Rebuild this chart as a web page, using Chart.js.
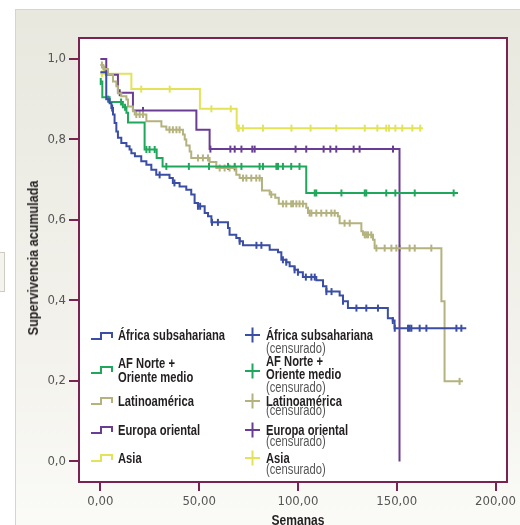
<!doctype html>
<html lang="es">
  <head>
    <meta charset="utf-8">
    <title>Supervivencia acumulada</title>
    <script src="https://cdn.jsdelivr.net/npm/chart.js"></script>
    <style>
      html, body { margin: 0; padding: 0; background: #fff; }
      body { width: 520px; height: 525px; position: relative; overflow: hidden;
             font-family: "Liberation Sans", Arial, sans-serif; }
      .panel { position: absolute; left: 15px; top: 9px; width: 520px; height: 530px;
               border-left: 1px solid #d7d5ca; border-top: 1px solid #d7d5ca;
               background: linear-gradient(#e9e8df, #f2f1eb 60%, #fbfbf8); }
      .stub { position: absolute; left: -6px; top: 252px; width: 9px; height: 38px;
              border: 1px solid #cfcdc3; background: #f4f3ee; }
      #wrap { position: absolute; left: 0; top: 0; width: 520px; height: 525px; }
      /* el original usa una tipografía estrecha: se comprime en horizontal */
      .lg { position: absolute; font-size: 14px; line-height: 16px; font-weight: bold;
            color: #231f20; white-space: nowrap; transform: scaleX(0.8); transform-origin: 0 50%; }
      .cens { font-weight: normal; color: #555; }
      .ico { position: absolute; }
      .ytitle { position: absolute; left: 33px; top: 258px; transform: translate(-50%, -50%) rotate(-90deg) scaleX(0.9);
                font-size: 14px; font-weight: bold; color: #231f20; white-space: nowrap; }
      .xtitle { position: absolute; left: 298px; top: 512px; transform: translateX(-50%) scaleX(0.86);
                font-size: 14px; font-weight: bold; color: #231f20; }
    </style>
  </head>
  <body>
    <div class="panel"></div>
    <div class="stub"></div>
    <div id="wrap"><canvas id="km" width="520" height="525"></canvas></div>

    <div class="ytitle">Supervivencia acumulada</div>
    <div class="xtitle">Semanas</div>

    <!-- leyenda -->
    <svg class="ico" style="left:90px;top:331px" width="24" height="10"><polyline points="1,8 11,8 11,2 22,2 22,7" fill="none" stroke="#3a4ea5" stroke-width="2"/></svg>
    <svg class="ico" style="left:90px;top:365px" width="24" height="10"><polyline points="1,8 11,8 11,2 22,2 22,7" fill="none" stroke="#1fa85b" stroke-width="2"/></svg>
    <svg class="ico" style="left:90px;top:396px" width="24" height="10"><polyline points="1,8 11,8 11,2 22,2 22,7" fill="none" stroke="#b4b27e" stroke-width="2"/></svg>
    <svg class="ico" style="left:90px;top:425px" width="24" height="10"><polyline points="1,8 11,8 11,2 22,2 22,7" fill="none" stroke="#6a3d94" stroke-width="2"/></svg>
    <svg class="ico" style="left:90px;top:453px" width="24" height="10"><polyline points="1,8 11,8 11,2 22,2 22,7" fill="none" stroke="#e3e35a" stroke-width="2"/></svg>

    <div class="lg" style="left:118px;top:327px">África subsahariana</div>
    <div class="lg" style="left:118px;top:355px">AF Norte +</div>
    <div class="lg" style="left:118px;top:369px">Oriente medio</div>
    <div class="lg" style="left:118px;top:393px">Latinoamérica</div>
    <div class="lg" style="left:118px;top:422px">Europa oriental</div>
    <div class="lg" style="left:118px;top:450px">Asia</div>

    <svg class="ico" style="left:245px;top:327px" width="16" height="16"><path d="M0,8H15M7.5,0.5V15.5" stroke="#3a4ea5" stroke-width="2"/></svg>
    <svg class="ico" style="left:245px;top:363px" width="16" height="16"><path d="M0,8H15M7.5,0.5V15.5" stroke="#1fa85b" stroke-width="2"/></svg>
    <svg class="ico" style="left:245px;top:393px" width="16" height="16"><path d="M0,8H15M7.5,0.5V15.5" stroke="#b4b27e" stroke-width="2"/></svg>
    <svg class="ico" style="left:245px;top:422px" width="16" height="16"><path d="M0,8H15M7.5,0.5V15.5" stroke="#6a3d94" stroke-width="2"/></svg>
    <svg class="ico" style="left:245px;top:450px" width="16" height="16"><path d="M0,8H15M7.5,0.5V15.5" stroke="#e3e35a" stroke-width="2"/></svg>

    <div class="lg" style="left:266px;top:327px">África subsahariana</div>
    <div class="lg cens" style="left:266px;top:340px">(censurado)</div>
    <div class="lg" style="left:266px;top:353px">AF Norte +</div>
    <div class="lg" style="left:266px;top:366px">Oriente medio</div>
    <div class="lg cens" style="left:266px;top:379px">(censurado)</div>
    <div class="lg" style="left:266px;top:393px">Latinoamérica</div>
    <div class="lg cens" style="left:266px;top:402px">(censurado)</div>
    <div class="lg" style="left:266px;top:422px">Europa oriental</div>
    <div class="lg cens" style="left:266px;top:433px">(censurado)</div>
    <div class="lg" style="left:266px;top:450px">Asia</div>
    <div class="lg cens" style="left:266px;top:461px">(censurado)</div>

    <script>
      // Kaplan-Meier: tiempos (semanas) y supervivencia tras cada evento
      const africaT = [0, 3.0, 4.7, 5.6, 6.4, 7.2, 8.1, 8.9, 10.6, 13.2, 14.8, 15.7, 17.5, 20.7, 23.3, 25.8, 28.3, 35.0, 36.7, 40.1, 43.5, 46.0, 47.7, 49.4, 52.8, 54.5, 56.2, 64.6, 65.4, 68.8, 70.5, 72.2, 85.7, 89.9, 91.6, 94.1, 95.8, 98.3, 100.0, 102.5, 109.3, 112.7, 114.4, 121.1, 122.8, 125.3, 145.5, 148.0, 148.9, 185.2];
      const africaS = [0.967, 0.900, 0.890, 0.878, 0.862, 0.841, 0.820, 0.804, 0.791, 0.783, 0.775, 0.766, 0.758, 0.746, 0.737, 0.725, 0.712, 0.704, 0.692, 0.683, 0.675, 0.663, 0.642, 0.634, 0.617, 0.609, 0.594, 0.580, 0.563, 0.555, 0.547, 0.537, 0.526, 0.520, 0.501, 0.495, 0.485, 0.476, 0.470, 0.458, 0.450, 0.435, 0.422, 0.412, 0.398, 0.381, 0.356, 0.350, 0.331, 0.331];
      const africaC = [4.0, 6.0, 30.0, 37.5, 49.4, 50.5, 56.5, 59.5, 70.5, 79.0, 81.5, 92.4, 94.1, 98.3, 100.0, 104.0, 106.8, 108.5, 114.4, 117.0, 122.8, 129.6, 134.6, 140.5, 148.0, 149.0, 155.7, 156.5, 157.4, 161.6, 165.0, 180.2, 182.7];

      const norteT = [0, 1.0, 4.7, 11.4, 13.2, 14.0, 22.4, 28.5, 31.5, 104.2, 181.0];
      const norteS = [0.944, 0.905, 0.893, 0.880, 0.866, 0.842, 0.775, 0.754, 0.733, 0.667, 0.667];
      const norteC = [0.2, 10.5, 12.5, 23.3, 24.9, 27.5, 33.4, 44.8, 55.0, 64.6, 68.0, 71.4, 80.6, 82.3, 89.1, 89.9, 92.4, 96.6, 100.8, 108.5, 109.3, 122.0, 133.8, 134.6, 144.7, 149.3, 159.1, 178.8];

      const latT = [0, 1.5, 3.9, 6.4, 8.1, 8.9, 10.6, 13.2, 14.0, 16.5, 17.4, 23.3, 30.9, 33.4, 41.8, 42.7, 43.5, 45.2, 46.0, 55.3, 58.7, 68.8, 70.5, 81.8, 85.7, 88.5, 90.3, 104.2, 105.1, 120.2, 121.1, 132.1, 132.9, 138.0, 138.8, 172.6, 174.2, 183.5];
      const latS = [0.985, 0.975, 0.961, 0.944, 0.932, 0.915, 0.907, 0.899, 0.882, 0.870, 0.862, 0.845, 0.832, 0.824, 0.812, 0.800, 0.785, 0.770, 0.754, 0.744, 0.729, 0.712, 0.704, 0.673, 0.663, 0.655, 0.640, 0.630, 0.617, 0.609, 0.592, 0.572, 0.563, 0.551, 0.530, 0.398, 0.199, 0.199];
      const latC = [0.8, 2.0, 18.2, 19.9, 21.6, 35.0, 36.7, 38.5, 40.1, 49.4, 51.9, 54.5, 60.4, 62.9, 65.4, 68.0, 72.2, 73.9, 76.4, 78.9, 80.6, 86.5, 92.4, 94.1, 96.6, 97.5, 99.2, 100.8, 102.5, 105.9, 106.8, 109.3, 111.8, 114.4, 116.9, 118.6, 123.6, 126.2, 133.8, 134.6, 135.5, 137.1, 139.7, 143.9, 147.3, 149.8, 151.5, 156.5, 159.1, 167.5, 181.8];

      const europaT = [0, 3.0, 8.9, 16.5, 48.6, 55.3, 151.4];
      const europaS = [1.0, 0.961, 0.916, 0.872, 0.824, 0.776, 0.0];
      const europaC = [9.8, 21.6, 55.7, 65.8, 68.0, 71.4, 76.9, 78.1, 98.8, 104.2, 113.0, 116.4, 119.4, 128.2, 131.2, 148.1];

      const asiaT = [0, 15.7, 50.4, 69.0, 163.3];
      const asiaS = [0.963, 0.925, 0.876, 0.828, 0.828];
      const asiaC = [0.8, 20.7, 35.1, 56.2, 66.0, 69.6, 70.1, 72.2, 82.3, 96.7, 106.4, 119.4, 133.8, 140.2, 144.7, 146.1, 149.3, 152.8, 157.9, 161.9];

      const groups = ['África subsahariana', 'AF Norte + Oriente medio', 'Latinoamérica', 'Europa oriental', 'Asia'];
      const xTicks = [0, 50, 100, 150, 200];
      const yTicks = [0, 0.2, 0.4, 0.6, 0.8, 1.0];

      const colors = ['#3a4ea5', '#1fa85b', '#b4b27e', '#6a3d94', '#e3e35a'];
      const maroon = '#7a2350';
      const font = '"DejaVu Sans Condensed", sans-serif';

      const series = [
        [africaT, africaS, africaC],
        [norteT, norteS, norteC],
        [latT, latS, latC],
        [europaT, europaS, europaC],
        [asiaT, asiaS, asiaC]
      ];

      function survAt(t, s, x) {
        let v = s[0];
        for (let i = 0; i < t.length; i++) { if (t[i] <= x) v = s[i]; }
        return v;
      }

      const datasets = [];
      series.forEach(([t, s], i) => {
        datasets.push({
          label: groups[i],
          data: t.map((x, k) => ({ x: x, y: s[k] })),
          borderColor: colors[i], borderWidth: 2, stepped: true,
          pointRadius: 0, fill: false
        });
      });
      series.forEach(([t, s, c], i) => {
        datasets.push({
          label: groups[i] + ' (censurado)',
          data: c.map(x => ({ x: x, y: survAt(t, s, x) })),
          showLine: false, pointStyle: 'line', rotation: 90,
          pointRadius: 3.5, pointBorderWidth: 2,
          borderColor: colors[i], backgroundColor: colors[i]
        });
      });

      const plotBox = {
        id: 'plotBox',
        beforeDraw(chart) {
          const a = chart.chartArea, ctx = chart.ctx;
          ctx.save();
          ctx.fillStyle = '#fff';
          ctx.fillRect(a.left, a.top, a.right - a.left, a.bottom - a.top);
          ctx.restore();
        },
        beforeDatasetsDraw(chart) {
          const a = chart.chartArea, ctx = chart.ctx;
          ctx.save();
          ctx.strokeStyle = maroon;
          ctx.lineWidth = 2;
          ctx.strokeRect(a.left, a.top, a.right - a.left, a.bottom - a.top);
          ctx.restore();
        }
      };

      const fmt = d => v => v.toFixed(d).replace('.', ',');

      new Chart(document.getElementById('km'), {
        type: 'line',
        data: { datasets: datasets },
        options: {
          responsive: false,
          animation: false,
          devicePixelRatio: 1,
          layout: { padding: { top: 38, right: 13, left: 0, bottom: 0 } },
          plugins: { legend: { display: false }, tooltip: { enabled: false } },
          scales: {
            x: {
              type: 'linear', min: -10.8, max: 205.8,
              afterBuildTicks: s => { s.ticks = xTicks.map(v => ({ value: v })); },
              afterFit: s => { s.height = 43; },
              grid: { drawOnChartArea: false, tickLength: 9, color: maroon, lineWidth: 2 },
              border: { display: false },
              ticks: { callback: fmt(2), color: '#555', padding: 3, maxRotation: 0, font: { family: font, size: 13 } }
            },
            y: {
              type: 'linear', min: -0.051, max: 1.052,
              afterBuildTicks: s => { s.ticks = yTicks.map(v => ({ value: v })); },
              afterFit: s => { s.width = 79; },
              grid: { drawOnChartArea: false, tickLength: 10, color: maroon, lineWidth: 2 },
              border: { display: false },
              ticks: { callback: fmt(1), color: '#555', padding: 3, font: { family: font, size: 13 } }
            }
          }
        },
        plugins: [plotBox]
      });
    </script>
  </body>
</html>
